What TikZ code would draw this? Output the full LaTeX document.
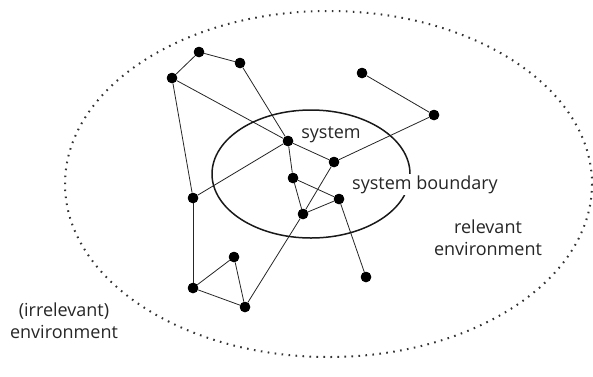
\documentclass[tikz,border=0pt]{standalone}
\usepackage{fontspec}
\setmainfont{Open Sans}
\begin{document}
\begin{tikzpicture}[x=1pt,y=-1pt,
  dot/.style={circle,fill=black,inner sep=0pt,minimum size=10.5pt},
  edge/.style={line width=0.8pt,draw=black!85},
  lbl/.style={font=\fontsize{18}{22}\selectfont,text=black!85,inner sep=1.5pt,align=center},
  sysb/.style={line width=1.5pt,draw=black!90},
  envb/.style={line width=2pt,draw=black!80,dash pattern=on 1.6pt off 5.4pt}]
\useasboundingbox (0,0) rectangle (593,376);
\node[dot] (A) at (199,52) {};
\node[dot] (B) at (240,63) {};
\node[dot] (C) at (172,78) {};
\node[dot] (D) at (362,73) {};
\node[dot] (E) at (434,115) {};
\node[dot] (F) at (288,141) {};
\node[dot] (G) at (334,162) {};
\node[dot] (H) at (293,178) {};
\node[dot] (I) at (339,199) {};
\node[dot] (J) at (193,198) {};
\node[dot] (K) at (303,214) {};
\node[dot] (L) at (234,257) {};
\node[dot] (M) at (366,277) {};
\node[dot] (N) at (193,288) {};
\node[dot] (O) at (245,307) {};
\foreach \a/\b in {A/B,A/C,B/F,C/F,C/J,F/G,F/J,F/H,G/E,D/E,G/K,K/O,H/I,H/K,K/I,I/M,J/N,N/L,L/O,N/O}
  \draw[edge] (\a) -- (\b);
\draw[sysb] (311,174) ellipse [x radius=99, y radius=64];
\draw[envb] (328.5,184) ellipse [x radius=263.5, y radius=173];
\node[lbl,anchor=base] (sys) at (331,138) {system};
\node[lbl,anchor=base,fill=white] (sb) at (425,189) {system boundary};
\node[lbl,anchor=base,fill=white] (re) at (488,255) {relevant\\environment};
\node[lbl,anchor=base] (ie) at (64,338) {(irrelevant)\\environment};
\foreach \n in {A,B,C,D,E,F,G,H,I,J,K,L,M,N,O}
  \fill (\n) circle (5.2pt);
\end{tikzpicture}
\end{document}
